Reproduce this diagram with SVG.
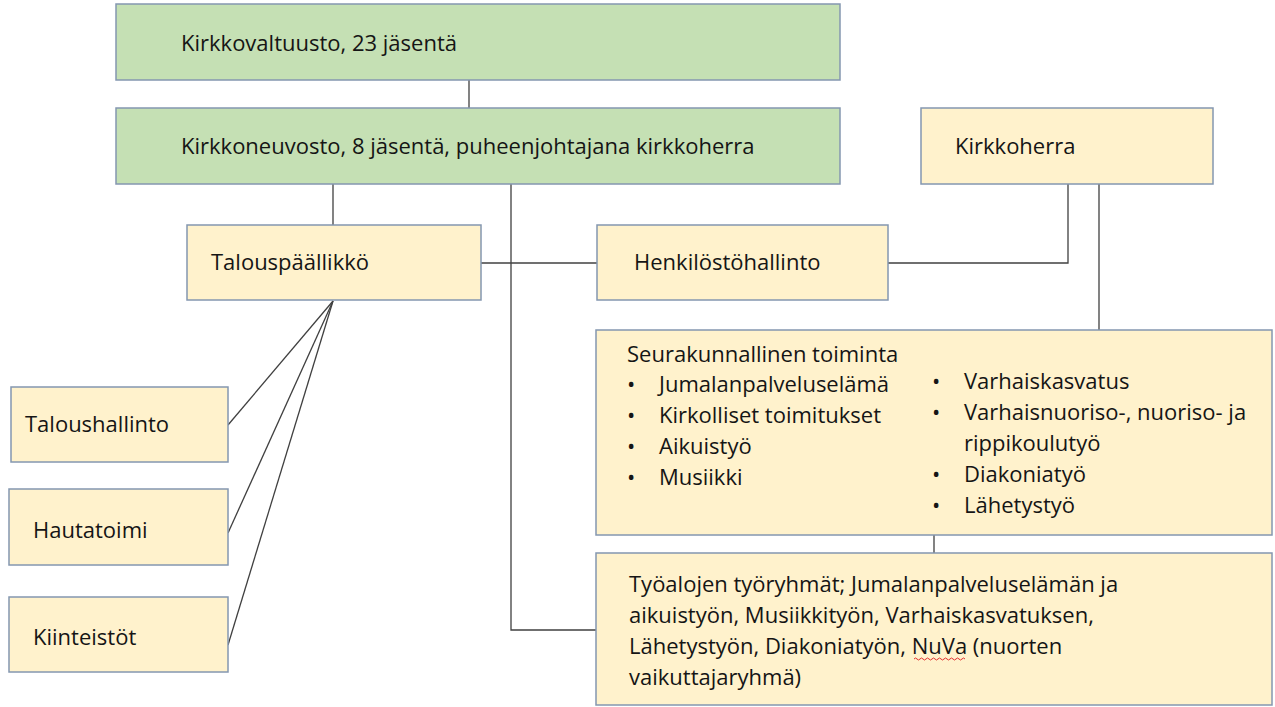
<svg xmlns="http://www.w3.org/2000/svg" width="1275" height="707" viewBox="0 0 1275 707">
<style>
.g{fill:#C5E0B4;stroke:#8497B0;stroke-width:1.5}
.y{fill:#FFF2CC;stroke:#8497B0;stroke-width:1.5}
.t{font-family:"Open Sans","Liberation Sans",sans-serif;font-size:22px;fill:#151515}
.c{stroke:#404040;stroke-width:1.3;fill:none}
</style>
<rect width="1275" height="707" fill="#ffffff"/>
<g id="connectors">
<line class="c" x1="469" y1="80" x2="469" y2="108"/>
<line class="c" x1="333" y1="184" x2="333" y2="225"/>
<polyline class="c" points="511,184 511,630 597,630"/>
<line class="c" x1="481" y1="263" x2="597" y2="263"/>
<polyline class="c" points="888,263 1068,263 1068,184"/>
<line class="c" x1="1099" y1="184" x2="1099" y2="330"/>
<line class="c" x1="934" y1="535" x2="934" y2="553"/>
<line class="c" x1="333" y1="301" x2="228" y2="425"/>
<line class="c" x1="333" y1="301" x2="228" y2="533"/>
<line class="c" x1="333" y1="301" x2="228" y2="645"/>
</g>
<g id="kirkkovaltuusto">
<rect class="g" x="116" y="4" width="724" height="76"/>
<text class="t" x="181" y="51">Kirkkovaltuusto, 23 jäsentä</text>
</g>
<g id="kirkkoneuvosto">
<rect class="g" x="116" y="108" width="724" height="76"/>
<text class="t" x="181" y="154">Kirkkoneuvosto, 8 jäsentä, puheenjohtajana kirkkoherra</text>
</g>
<g id="kirkkoherra">
<rect class="y" x="921" y="108" width="292" height="76"/>
<text class="t" x="955" y="154">Kirkkoherra</text>
</g>
<g id="talouspaallikko">
<rect class="y" x="187" y="225" width="294" height="75"/>
<text class="t" x="211" y="270">Talouspäällikkö</text>
</g>
<g id="henkilostohallinto">
<rect class="y" x="597" y="225" width="291" height="75"/>
<text class="t" x="634" y="270">Henkilöstöhallinto</text>
</g>
<g id="taloushallinto">
<rect class="y" x="11" y="387" width="217" height="75"/>
<text class="t" x="25" y="432">Taloushallinto</text>
</g>
<g id="hautatoimi">
<rect class="y" x="9" y="489" width="219" height="76"/>
<text class="t" x="33" y="538">Hautatoimi</text>
</g>
<g id="kiinteistot">
<rect class="y" x="9" y="597" width="219" height="75"/>
<text class="t" x="33" y="645">Kiinteistöt</text>
</g>
<g id="seurakunnallinen">
<rect class="y" x="596" y="330" width="676" height="205"/>
<text class="t" x="627" y="362">Seurakunnallinen toiminta</text>
<g class="t">
<text x="627" y="392">•</text><text x="659" y="392">Jumalanpalveluselämä</text>
<text x="627" y="423">•</text><text x="659" y="423">Kirkolliset toimitukset</text>
<text x="627" y="454">•</text><text x="659" y="454">Aikuistyö</text>
<text x="627" y="485">•</text><text x="659" y="485">Musiikki</text>
<text x="932" y="389">•</text><text x="964" y="389">Varhaiskasvatus</text>
<text x="932" y="420">•</text><text x="964" y="420">Varhaisnuoriso-, nuoriso- ja</text>
<text x="964" y="451">rippikoulutyö</text>
<text x="932" y="482">•</text><text x="964" y="482">Diakoniatyö</text>
<text x="932" y="513">•</text><text x="964" y="513">Lähetystyö</text>
</g>
</g>
<g id="tyoalojen">
<rect class="y" x="596" y="553" width="676" height="152"/>
<g class="t">
<text x="629" y="592">Työalojen työryhmät; Jumalanpalveluselämän ja</text>
<text x="629" y="623">aikuistyön, Musiikkityön, Varhaiskasvatuksen,</text>
<text x="629" y="654">Lähetystyön, Diakoniatyön, NuVa (nuorten</text>
<text x="629" y="685">vaikuttajaryhmä)</text>
</g>
<path d="M914,659 q1.5,-2 3,0 t3,0 t3,0 t3,0 t3,0 t3,0 t3,0 t3,0 t3,0 t3,0 t3,0 t3,0 t3,0 t3,0 t3,0 t3,0 t3,0" fill="none" stroke="#e03030" stroke-width="1"/>
</g>
</svg>
